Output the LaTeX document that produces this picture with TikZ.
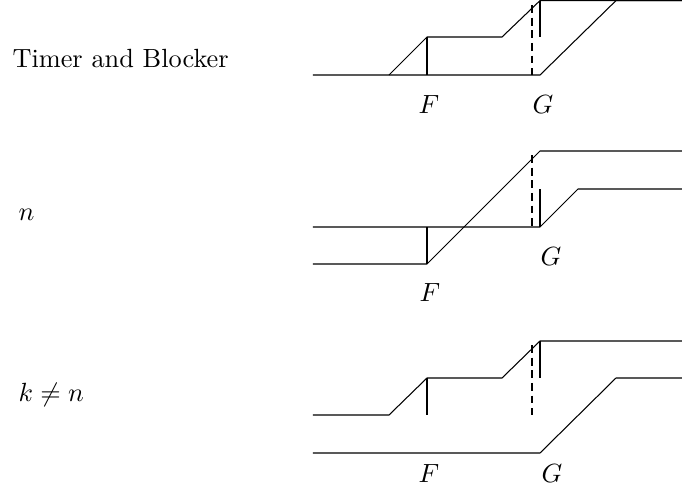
\documentclass[tikz,border=0pt]{standalone}
\begin{document}
\begin{tikzpicture}[x=0.38pt,y=-0.38pt,
  thinline/.style={line width=0.4pt},
  thickline/.style={line width=1.1pt},
  dashline/.style={line width=0.4pt,dash pattern=on 3pt off 1.8pt},
  lbl/.style={inner sep=0pt,anchor=base}]
\useasboundingbox (0,0) rectangle (682,490);
% ---------- Panel 1 ----------
\draw[thinline] (313,75) -- (540,75) -- (616,0.6) -- (682,0.6);
\draw[thinline] (389,75) -- (427,37) -- (502,37) -- (540,0.6) -- (682,0.6);
\draw[thickline] (427,37) -- (427,75);
\draw[thickline] (540,0.6) -- (540,37);
\draw[dashline] (532,5) -- (532,75);
\node[lbl,anchor=base west] (t1) at (12,67) {Timer and Blocker};
\node[lbl] (f1) at (429,113) {$F$};
\node[lbl] (g1) at (543,113) {$G$};
% ---------- Panel 2 ----------
\draw[thinline] (313,227) -- (540,227) -- (578,189) -- (682,189);
\draw[thinline] (313,264) -- (427,264) -- (540,151) -- (682,151);
\draw[thickline] (427,227) -- (427,264);
\draw[thickline] (540,189) -- (540,227);
\draw[dashline] (532,155) -- (532,227);
\node[lbl,anchor=base west] (t2) at (18,220) {$n$};
\node[lbl] (f2) at (430,301) {$F$};
\node[lbl] (g2) at (551,265) {$G$};
% ---------- Panel 3 ----------
\draw[thinline] (313,415) -- (389,415) -- (427,378) -- (502,378) -- (540,341) -- (682,341);
\draw[thinline] (313,453) -- (540,453) -- (616,378) -- (682,378);
\draw[thickline] (427,378) -- (427,415);
\draw[thickline] (540,341) -- (540,378);
\draw[dashline] (532,345) -- (532,415);
\node[lbl,anchor=base west] (t3) at (18,401) {$k\neq n$};
\node[lbl] (f3) at (429,482) {$F$};
\node[lbl] (g3) at (552,482) {$G$};
\end{tikzpicture}
\end{document}
